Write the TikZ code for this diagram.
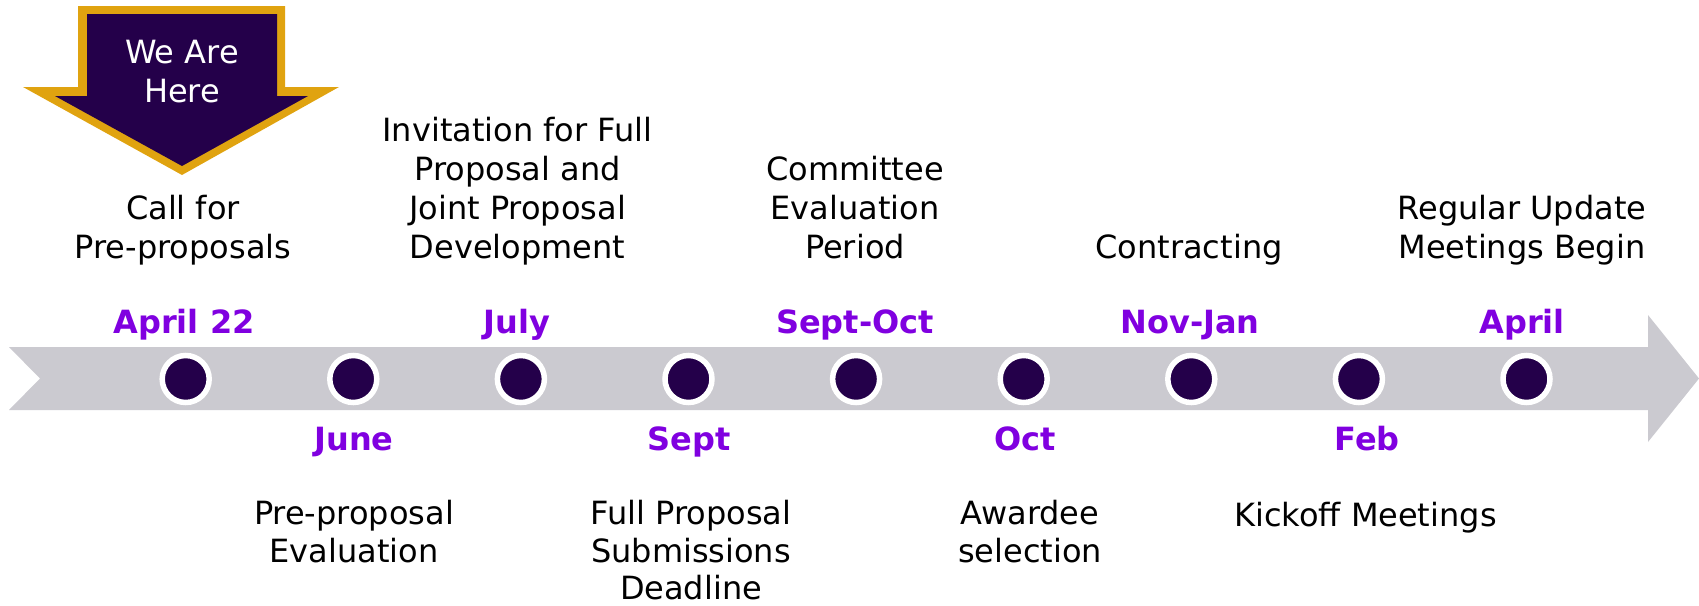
\documentclass[tikz,border=0pt]{standalone}
\usepackage{fontspec}
\setmainfont{DejaVu Sans}
\definecolor{bandgray}{RGB}{203,202,208}
\definecolor{goldc}{RGB}{224,163,16}
\definecolor{darkp}{RGB}{36,0,74}
\definecolor{monthc}{RGB}{128,0,224}
\tikzset{
  dot/.style={circle, inner sep=0pt, minimum size=47pt, fill=darkp, draw=white, line width=5.5pt},
  month/.style={anchor=base, inner sep=0pt, text=monthc, font=\fontsize{32}{39}\selectfont\bfseries},
  desc/.style={inner sep=0pt, align=center, text=black, font=\fontsize{32}{39}\selectfont,
    execute at begin node=\strut, execute at end node=\strut},
  descb/.style={inner sep=0pt, align=center, text=black, font=\fontsize{32}{37.5}\selectfont,
    execute at begin node=\strut},
}
\begin{document}
\begin{tikzpicture}[x=1pt,y=-1pt]
\useasboundingbox (0,0) rectangle (1699,605);
% timeline band
\fill[bandgray] (9,347) -- (1648,347) -- (1648,315) -- (1699,378.5) -- (1648,442)
  -- (1648,410) -- (9,410) -- (40,378.5) -- cycle;
% We Are Here arrow
\fill[goldc] (78,6) -- (285,6) -- (285,87) -- (339,87) -- (182,175) -- (23,87) -- (78,87) -- cycle;
\fill[darkp] (87,14) -- (277,14) -- (277,96) -- (308,96) -- (182,166) -- (55,96) -- (87,96) -- cycle;
\node[desc, text=white, anchor=north] (here) at (182,39.5) {We Are\\Here};
% dots
\foreach \i/\x in {1/185.7,2/353.3,3/520.9,4/688.5,5/856.1,6/1023.7,7/1191.3,8/1358.9,9/1526.5}
  \node[dot] (d\i) at (\x,379) {};
% months
\node[month] (m1) at (184,333) {April 22};
\node[month] (m2) at (354,450) {June};
\node[month] (m3) at (517,333) {July};
\node[month] (m4) at (689,450) {Sept};
\node[month] (m5) at (855,333) {Sept-Oct};
\node[month] (m6) at (1025,450) {Oct};
\node[month] (m7) at (1190,333) {Nov-Jan};
\node[month] (m8) at (1367,450) {Feb};
\node[month] (m9) at (1522,333) {April};
% descriptions above
\node[desc, anchor=south] (t1) at (183,270) {Call for\\Pre-proposals};
\node[desc, anchor=south] (t3) at (517.5,270) {Invitation for Full\\Proposal and\\Joint Proposal\\Development};
\node[desc, anchor=south] (t5) at (855,270) {Committee\\Evaluation\\Period};
\node[desc, anchor=south] (t7) at (1189,270) {Contracting};
\node[desc, anchor=south] (t9) at (1522,270) {Regular Update\\Meetings Begin};
% descriptions below
\node[descb, anchor=north] (b2) at (354,500) {Pre-proposal\\Evaluation};
\node[descb, anchor=north] (b4) at (691,500) {Full Proposal\\Submissions\\Deadline};
\node[descb, anchor=north] (b6) at (1030,500) {Awardee\\selection};
\node[descb, anchor=north] (b8) at (1365.5,500) {Kickoff Meetings};
\end{tikzpicture}
\end{document}
